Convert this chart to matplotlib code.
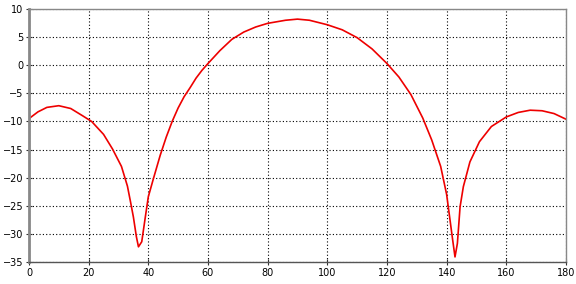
import numpy as np
import matplotlib.pyplot as plt

# Данные кривой (угол, уровень)
angle = [0, 3, 6, 10, 14, 18, 21, 25, 28, 31, 33, 34, 35, 36, 36.7, 37.8, 39, 40,
         41.7, 44, 46, 48, 50, 52, 54, 56, 58, 60, 64, 68, 72, 76, 80, 86, 90, 94,
         100, 105, 110, 115, 120, 124, 128, 132, 135, 138, 140, 141, 142, 142.8,
         143.6, 144.5, 145.6, 147.8, 151, 155, 160, 164, 168, 172, 176, 180]
level = [-9.5, -8.3, -7.5, -7.2, -7.7, -9.0, -10.0, -12.3, -14.9, -18.0, -21.5,
         -24.2, -27.0, -30.5, -32.3, -31.4, -27.0, -23.4, -20.2, -16.0, -12.8,
         -10.0, -7.6, -5.6, -4.0, -2.3, -0.9, 0.3, 2.6, 4.6, 5.9, 6.8, 7.45, 8.0,
         8.2, 8.0, 7.2, 6.3, 4.9, 2.9, 0.3, -2.1, -5.2, -9.4, -13.3, -18.0, -23.0,
         -27.0, -31.0, -34.1, -31.7, -25.2, -21.6, -17.2, -13.6, -10.9, -9.2,
         -8.4, -8.0, -8.1, -8.6, -9.6]

x_ticks = np.arange(0, 181, 20)
y_ticks = np.arange(-35, 11, 5)

fig = plt.figure(figsize=(5.76, 2.84), dpi=100)
ax = fig.add_axes([0.0503, 0.0775, 0.9323, 0.8908])

ax.plot(angle, level, color='#ee0000', linewidth=1.2)

ax.set_xlim(0, 180)
ax.set_ylim(-35, 10)
ax.set_xticks(x_ticks)
ax.set_yticks(y_ticks)
ax.tick_params(axis='both', labelsize=7, direction='inout', length=4,
               width=0.8, color='#333333', pad=2)

# Сетка пунктиром
ax.grid(True, color='black', linestyle=(0, (1, 2)), linewidth=0.8)

for side in ['top', 'right']:
    ax.spines[side].set_color('#888888')
    ax.spines[side].set_linewidth(1.0)
ax.spines['left'].set_color('#888888')
ax.spines['left'].set_linewidth(2.0)
ax.spines['bottom'].set_color('#555555')
ax.spines['bottom'].set_linewidth(1.0)

fig.savefig('out.png', dpi=100)
